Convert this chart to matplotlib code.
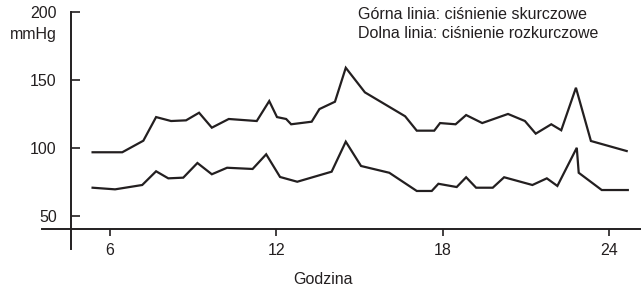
import matplotlib
matplotlib.use("Agg")
import matplotlib.pyplot as plt

plt.rcParams['font.family'] = ['Liberation Sans', 'DejaVu Sans']

# Data (hour of day, mmHg)
hours_sys = [5.37, 6.44, 7.20, 7.66, 8.20, 8.74, 9.21, 9.67, 10.28, 11.29, 11.74, 12.02,
             12.35, 12.53, 13.27, 13.55, 14.11, 14.50, 15.19, 16.64, 17.06, 17.69, 17.90,
             18.46, 18.84, 19.42, 20.35, 20.96, 21.35, 21.91, 22.27, 22.80, 23.34, 24.63]
systolic = [97.1, 97.1, 105.6, 123.0, 120.1, 120.6, 126.2, 115.2, 121.6, 120.1, 134.8, 123.0,
            121.6, 117.7, 119.6, 128.9, 134.3, 159.3, 141.2, 123.6, 113.0, 113.0, 118.6,
            117.7, 124.5, 118.6, 125.3, 120.1, 110.8, 117.7, 113.3, 144.6, 105.4, 98.0]

hours_dia = [5.37, 6.18, 7.16, 7.66, 8.10, 8.64, 9.15, 9.67, 10.22, 11.14, 11.63, 12.13,
             12.75, 13.99, 14.50, 15.05, 16.07, 17.06, 17.60, 17.84, 18.50, 18.84, 19.20,
             19.80, 20.21, 21.23, 21.75, 22.13, 22.83, 22.90, 23.73, 24.67]
diastolic = [71.0, 69.8, 73.0, 83.1, 77.9, 78.4, 89.2, 80.9, 85.7, 84.8, 95.6, 78.9,
             75.4, 82.8, 104.9, 87.0, 82.0, 68.6, 68.6, 73.9, 71.5, 78.7, 71.0,
             71.0, 78.7, 73.0, 77.9, 72.3, 100.4, 82.0, 69.3, 69.3]

x_ticks = [6, 12, 18, 24]
y_ticks = [50, 100, 150, 200]

legend_lines = ["Górna linia: ciśnienie skurczowe", "Dolna linia: ciśnienie rozkurczowe"]
unit_label = "mmHg"
x_label = "Godzina"

W, H = 641, 291
fig = plt.figure(figsize=(W / 100, H / 100), dpi=100)
ax = fig.add_axes([41.7 / W, (H - 249) / H, 1 - 41.7 / W, 249 / H])

ink = '#231f20'
ax.plot(hours_sys, systolic, color=ink, lw=1.6, solid_joinstyle='miter')
ax.plot(hours_dia, diastolic, color=ink, lw=1.6, solid_joinstyle='miter')

ax.set_xlim(3.535, 25.146)
ax.set_ylim(25.88, 209.2)

for s in ['top', 'right']:
    ax.spines[s].set_visible(False)
ax.spines['left'].set_position(('data', 4.58))
ax.spines['left'].set_bounds(25.88, 200)
ax.spines['bottom'].set_position(('data', 40.6))
for s in ['left', 'bottom']:
    ax.spines[s].set_linewidth(1.4)
    ax.spines[s].set_color(ink)

ax.set_xticks(x_ticks)
ax.set_yticks(y_ticks)
ax.tick_params(axis='y', direction='in', length=6.5, width=1.2, pad=10, labelsize=11.5,
               colors=ink)
ax.tick_params(axis='x', direction='out', length=5, width=1.2, pad=5, labelsize=11.5,
               colors=ink)

fig.text(56.7 / W, 1 - 35 / H, unit_label, ha='right', va='center', fontsize=11.5, color=ink)
fig.text(358 / W, 1 - 14.5 / H, legend_lines[0], ha='left', va='center', fontsize=11.5, color=ink)
fig.text(358 / W, 1 - 33 / H, legend_lines[1], ha='left', va='center', fontsize=11.5, color=ink)
fig.text(323 / W, 1 - 279 / H, x_label, ha='center', va='center', fontsize=11.5, color=ink)

fig.savefig('out.png', dpi=100, facecolor='white')
